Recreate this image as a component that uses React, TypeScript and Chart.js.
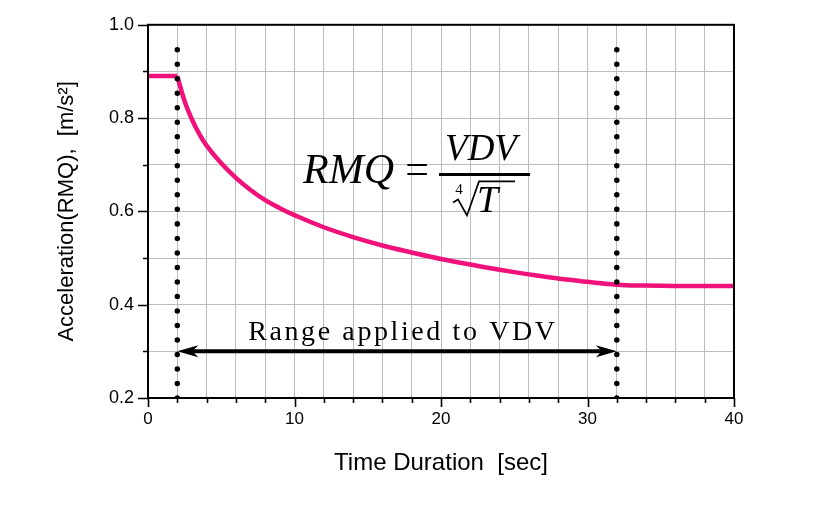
import React, { useEffect, useRef } from 'react';
import { Chart, registerables } from 'chart.js';
Chart.register(...registerables);

// ---- data ----
const preTime = [0, 2];
const preRMQ = [0.89, 0.89];
const curveTime = [2, 2.5, 3, 3.5, 4, 5, 6, 7, 8, 9, 10, 12, 14, 16, 18, 20, 22, 24, 26, 28, 30, 32, 34, 36, 38, 40];
const curveRMQ = [0.89, 0.836, 0.797, 0.766, 0.741, 0.703, 0.672, 0.646, 0.624, 0.607, 0.592, 0.566, 0.545, 0.527, 0.512, 0.498, 0.486, 0.475, 0.465, 0.456, 0.449, 0.443, 0.441, 0.44, 0.44, 0.44];
const vdvStart = 2;
const vdvEnd = 32;
const markerRange = [0.2, 0.955];
const arrowLevel = 0.3;
const xLabelValues = [0, 10, 20, 30, 40];
const yLabelValues = [0.2, 0.4, 0.6, 0.8, 1.0];
const xTitle = 'Time Duration  [sec]';
const yTitle = 'Acceleration(RMQ),  [m/s\u00B2]';
const rangeLabel = 'Range applied to VDV';
const formulaLeft = 'RMQ';
const formulaEq = '=';
const formulaNum = 'VDV';
const formulaRootIndex = '4';
const formulaRootArg = 'T';

const SERIF = '"Liberation Serif", "Times New Roman", serif';
const SANS = '"Liberation Sans", Arial, sans-serif';

const isXMajor = (v: number) => xLabelValues.some((t) => Math.abs(t - v) < 1e-6);
const isYMajor = (v: number) => yLabelValues.some((t) => Math.abs(t - v) < 1e-6);

const annotationPlugin = {
  id: 'annotations',
  afterDatasetsDraw(chart: any) {
    const { ctx, chartArea, scales } = chart;
    const xs = scales.x;
    const ys = scales.y;
    ctx.save();
    // frame
    ctx.strokeStyle = '#000';
    ctx.lineWidth = 2;
    ctx.strokeRect(chartArea.left, chartArea.top, chartArea.right - chartArea.left, chartArea.bottom - chartArea.top);

    // tick marks (outside)
    ctx.lineWidth = 1.6;
    ctx.beginPath();
    xs.ticks.forEach((t: any) => {
      const px = Math.round(xs.getPixelForValue(t.value)) + 0.5;
      const len = isXMajor(t.value) ? 9 : 5;
      ctx.moveTo(px, chartArea.bottom);
      ctx.lineTo(px, chartArea.bottom + len);
    });
    ys.ticks.forEach((t: any) => {
      const py = Math.round(ys.getPixelForValue(t.value)) + 0.5;
      const len = isYMajor(t.value) ? 10 : 5;
      ctx.moveTo(chartArea.left, py);
      ctx.lineTo(chartArea.left - len, py);
    });
    ctx.stroke();

    // arrowheads
    const ay = ys.getPixelForValue(arrowLevel);
    const ax1 = xs.getPixelForValue(vdvStart);
    const ax2 = xs.getPixelForValue(vdvEnd);
    ctx.fillStyle = '#000';
    const head = (tip: number, dir: number) => {
      ctx.beginPath();
      ctx.moveTo(tip, ay);
      ctx.lineTo(tip + dir * 21, ay - 6);
      ctx.lineTo(tip + dir * 15, ay);
      ctx.lineTo(tip + dir * 21, ay + 6);
      ctx.closePath();
      ctx.fill();
    };
    head(ax1, 1);
    head(ax2, -1);

    // range label
    ctx.font = '28px ' + SERIF;
    (ctx as any).letterSpacing = '2.6px';
    ctx.textAlign = 'center';
    ctx.textBaseline = 'alphabetic';
    ctx.fillStyle = '#000';
    ctx.fillText(rangeLabel, xs.getPixelForValue(17.4), ys.getPixelForValue(0.324));
    (ctx as any).letterSpacing = '0px';

    // formula
    const fx = xs.getPixelForValue(10.58);
    const fy = ys.getPixelForValue(0.66);
    ctx.textAlign = 'left';
    ctx.font = 'italic 42px ' + SERIF;
    ctx.fillText(formulaLeft, fx, fy);
    ctx.font = '42px ' + SERIF;
    ctx.textAlign = 'center';
    ctx.fillText(formulaEq, fx + 114, fy);
    ctx.lineWidth = 3;
    ctx.beginPath();
    ctx.moveTo(fx + 136, fy - 9);
    ctx.lineTo(fx + 227, fy - 9);
    ctx.stroke();
    ctx.font = 'italic 37px ' + SERIF;
    ctx.fillText(formulaNum, fx + 178, fy - 23);
    ctx.font = '15px ' + SERIF;
    ctx.fillText(formulaRootIndex, fx + 156, fy + 11);
    ctx.lineWidth = 1.7;
    ctx.beginPath();
    ctx.moveTo(fx + 150, fy + 19);
    ctx.lineTo(fx + 155, fy + 16);
    ctx.lineTo(fx + 164, fy + 32);
    ctx.lineTo(fx + 176, fy - 2);
    ctx.lineTo(fx + 212, fy - 2);
    ctx.stroke();
    ctx.font = 'italic 38px ' + SERIF;
    ctx.textAlign = 'left';
    ctx.fillText(formulaRootArg, fx + 174, fy + 29);
    ctx.restore();
  },
};

export default function App() {
  const ref = useRef<HTMLCanvasElement | null>(null);
  useEffect(() => {
    if (!ref.current) return;
    const dotted = (x: number) => ({
      data: [x, x].map((v, i) => ({ x: v, y: markerRange[i] })),
      borderColor: '#000',
      borderWidth: 5.5,
      borderDash: [0.01, 14.5],
      borderCapStyle: 'round',
      pointRadius: 0,
    });
    const chart = new Chart(ref.current, {
      type: 'line',
      data: {
        datasets: [
          dotted(vdvStart),
          dotted(vdvEnd),
          {
            data: [vdvStart + 0.6, vdvEnd - 0.6].map((x) => ({ x, y: arrowLevel })),
            borderColor: '#000',
            borderWidth: 4,
            pointRadius: 0,
          },
          {
            data: preTime.map((x, i) => ({ x, y: preRMQ[i] })),
            borderColor: 'rgb(240,18,122)',
            borderWidth: 4.5,
            pointRadius: 0,
          },
          {
            data: curveTime.map((x, i) => ({ x, y: curveRMQ[i] })),
            borderColor: 'rgb(240,18,122)',
            borderWidth: 4.5,
            pointRadius: 0,
            tension: 0.4,
            borderJoinStyle: 'round',
          },
        ],
      } as any,
      options: {
        animation: false,
        responsive: false,
        layout: { padding: { top: 24, right: 95, left: 0, bottom: 0 } },
        plugins: { legend: { display: false }, tooltip: { enabled: false } },
        scales: {
          x: {
            type: 'linear',
            min: 0,
            max: 40,
            afterFit: (s: any) => { s.height = 107; },
            border: { color: '#000', width: 2 },
            grid: { color: '#bdbdbd', lineWidth: 1, drawTicks: false },
            ticks: {
              stepSize: 2,
              autoSkip: false,
              maxRotation: 0,
              padding: 11,
              color: '#000',
              font: { family: SANS, size: 17 },
              callback: (v: any) => (isXMajor(Number(v)) ? String(v) : ''),
            },
            title: {
              display: true,
              text: xTitle,
              color: '#000',
              font: { family: SANS, size: 24 },
              padding: { top: 0, bottom: 27 },
            },
          },
          y: {
            type: 'linear',
            min: 0.2,
            max: 1.0,
            afterFit: (s: any) => { s.width = 148; },
            border: { color: '#000', width: 2 },
            grid: { color: '#bdbdbd', lineWidth: 1, drawTicks: false },
            ticks: {
              stepSize: 0.1,
              autoSkip: false,
              padding: 14,
              color: '#000',
              font: { family: SANS, size: 18 },
              callback: (v: any) => {
                const n = Number(v);
                return isYMajor(n) ? n.toFixed(1) : '';
              },
            },
            title: {
              display: true,
              text: yTitle,
              color: '#000',
              font: { family: SANS, size: 22 },
              padding: { top: 54, bottom: 0 },
            },
          },
        },
      } as any,
      plugins: [annotationPlugin],
    });
    return () => chart.destroy();
  }, []);
  return (
    <div style={{ position: 'absolute', left: 0, top: 0, width: 829, height: 505, background: '#fff' }}>
      <canvas ref={ref} width={829} height={505} style={{ display: 'block' }} />
    </div>
  );
}
